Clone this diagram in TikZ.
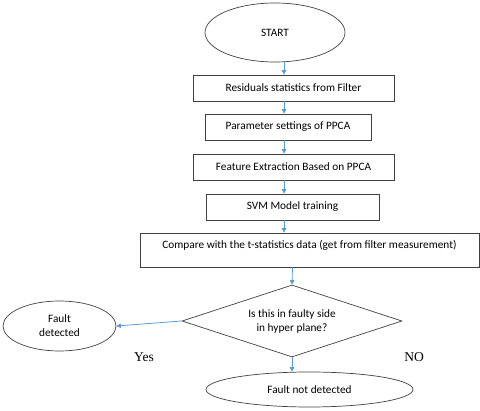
\documentclass[tikz,border=0pt]{standalone}
\usepackage{fontspec}
\setmainfont{Carlito}
\newfontfamily\serifyn{Liberation Serif}
\usetikzlibrary{shapes.geometric,arrows.meta,calc}
\definecolor{arrblue}{HTML}{5B9BD5}
\definecolor{edge}{HTML}{404040}
\tikzset{
  boxnode/.style={draw=edge, line width=0.7pt, rectangle, inner sep=0pt, font=\fontsize{11.3}{13.5}\selectfont},
  ovalnode/.style={draw=edge, line width=0.7pt, ellipse, inner sep=0pt, font=\fontsize{11.3}{14}\selectfont, align=center},
  decnode/.style={draw=edge, line width=0.7pt, diamond, aspect=3.05, inner sep=0pt, font=\fontsize{11.3}{14}\selectfont, align=center},
  arr/.style={draw=arrblue, line width=0.8pt, -{Triangle[length=4.5pt,width=4.5pt]}},
  yn/.style={font=\serifyn\fontsize{13.5}{15}\selectfont, inner sep=0pt}
}
\begin{document}
\begin{tikzpicture}[x=1pt,y=-1pt]
\useasboundingbox (0,0) rectangle (480,411);
\node[ovalnode, minimum width=140, minimum height=59] (start) at (275,32.5) {START};
\node[boxnode, minimum width=201, minimum height=26] (b1) at (293.5,88) {Residuals statistics from Filter};
\node[boxnode, minimum width=166, minimum height=26] (b2) at (288,127) {Parameter settings of PPCA};
\node[boxnode, minimum width=201, minimum height=26] (b3) at (293.5,167) {Feature Extraction Based on PPCA};
\node[boxnode, minimum width=173, minimum height=26] (b4) at (292.5,207) {SVM Model training};
\node[boxnode, minimum width=339, minimum height=34, text height=6pt, text depth=8pt] (b5) at (309.5,250) {Compare with the t-statistics data (get from filter measurement)};
\node[decnode, minimum width=220, minimum height=72] (dia) at (292,321) {Is this in faulty side\\in hyper plane?};
\node[ovalnode, minimum width=113, minimum height=50] (fd) at (59.5,326) {Fault\\detected};
\node[ovalnode, minimum width=207, minimum height=35] (nd) at (309.5,389.5) {Fault not detected};
\node[yn] (yes) at (144,357) {Yes};
\node[yn] (no) at (414,357) {NO};
\coordinate (ax) at (284,0);
\coordinate (ax2) at (292.5,0);
\draw[arr] (start.south -| ax) -- (b1.north -| ax);
\draw[arr] (b1.south -| ax) -- (b2.north -| ax);
\draw[arr] (b2.south -| ax) -- (b3.north -| ax);
\draw[arr] (b3.south -| ax) -- (b4.north -| ax);
\draw[arr] (b4.south -| ax) -- (b5.north -| ax);
\draw[arr] (b5.south -| ax2) -- (dia.north);
\draw[arr] (dia.west) -- (fd.east);
\draw[arr] (dia.south) -- (nd.north -| dia.south);
\end{tikzpicture}
\end{document}
